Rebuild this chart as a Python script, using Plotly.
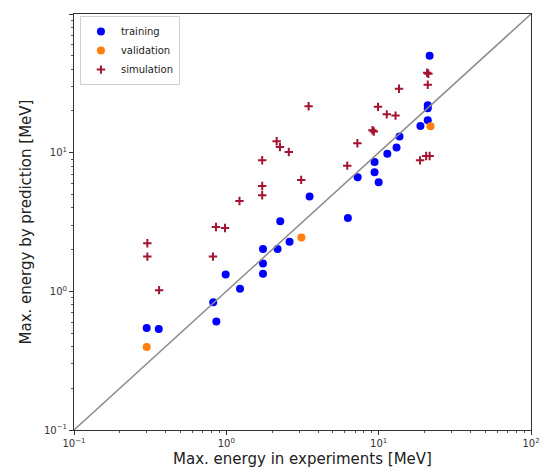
import plotly.graph_objects as go

train_x = [0.30, 0.36, 0.82, 0.86, 0.99, 1.23, 1.74, 1.74, 1.74, 2.17, 2.26, 2.6, 3.52, 6.28, 7.28,
           9.4, 9.4, 10.0, 11.4, 13.1, 13.7, 18.8, 21.0, 21.0, 21.0, 21.6]
train_y = [0.545, 0.536, 0.834, 0.605, 1.32, 1.045, 2.02, 1.59, 1.34, 2.02, 3.2, 2.28, 4.82, 3.38, 6.65,
           8.57, 7.22, 6.12, 9.84, 10.9, 13.1, 15.6, 17.1, 20.9, 22.0, 50.0]

val_x = [0.30, 3.11, 21.9]
val_y = [0.397, 2.44, 15.5]

sim_x = [0.303, 0.303, 0.362, 0.817, 0.855, 0.98, 1.22, 1.72, 1.72, 1.72, 2.14, 2.25, 2.57, 3.1,
         3.47, 6.22, 7.25, 9.1, 9.3, 9.9, 11.3, 12.9, 13.6, 18.7, 20.5, 21.6, 21.0, 20.8, 21.2]
sim_y = [2.22, 1.78, 1.02, 1.78, 2.91, 2.86, 4.48, 4.93, 5.75, 8.82, 12.1, 11.0, 10.1, 6.36,
         21.6, 8.06, 11.7, 14.5, 14.2, 21.4, 18.9, 18.5, 28.9, 8.8, 9.47, 9.47, 30.9, 37.7, 37.1]

diag = [0.1, 100]

major_vals = [0.1, 1, 10, 100]
major_text = ["10<sup>\u22121</sup>", "10<sup>0</sup>", "10<sup>1</sup>", "10<sup>2</sup>"]
minor_vals = [m * 10 ** e for e in (-1, 0, 1) for m in range(2, 10)]

fig = go.Figure()
fig.add_trace(go.Scatter(x=train_x, y=train_y, mode="markers", name="training",
                         marker=dict(color="#0000ff", size=8)))
fig.add_trace(go.Scatter(x=val_x, y=val_y, mode="markers", name="validation",
                         marker=dict(color="#ff7f0e", size=8)))
fig.add_trace(go.Scatter(x=sim_x, y=sim_y, mode="markers", name="simulation",
                         marker=dict(color="#a2142f", size=6, symbol="cross-thin",
                                     line=dict(color="#a2142f", width=2))))
fig.add_trace(go.Scatter(x=diag, y=diag, mode="lines", showlegend=False,
                         line=dict(color="#8c8c8c", width=1.5)))

axis_common = dict(
    type="log", range=[-1, 2], showgrid=False, zeroline=False, automargin=False,
    showline=True, linecolor="#333333", linewidth=1, mirror=True,
    ticks="outside", ticklen=4, tickcolor="#333333",
    tickmode="array", tickvals=major_vals, ticktext=major_text,
    tickfont=dict(family="DejaVu Sans", size=10, color="#333333"),
    minor=dict(ticks="outside", ticklen=2, tickcolor="#555555",
               tickmode="array", tickvals=minor_vals, showgrid=False),
)

fig.update_layout(
    width=539, height=460,
    margin=dict(l=66, r=16, t=6, b=38),
    plot_bgcolor="white", paper_bgcolor="white",
    font=dict(family="DejaVu Sans", color="#222222"),
    xaxis=dict(axis_common, title=dict(text="Max. energy in experiments [MeV]",
                                        font=dict(size=15, color="#222222"), standoff=13)),
    yaxis=dict(axis_common, title=dict(text="Max. energy by prediction [MeV]",
                                        font=dict(size=15, color="#222222"), standoff=8)),
    legend=dict(x=0.013, y=0.995, xanchor="left", yanchor="top",
                bgcolor="rgba(255,255,255,0.8)", bordercolor="#d0d0d0", borderwidth=1,
                font=dict(size=10, color="#222222"), itemwidth=30, tracegroupgap=0),
    showlegend=True,
)

fig.write_html("out.html")
